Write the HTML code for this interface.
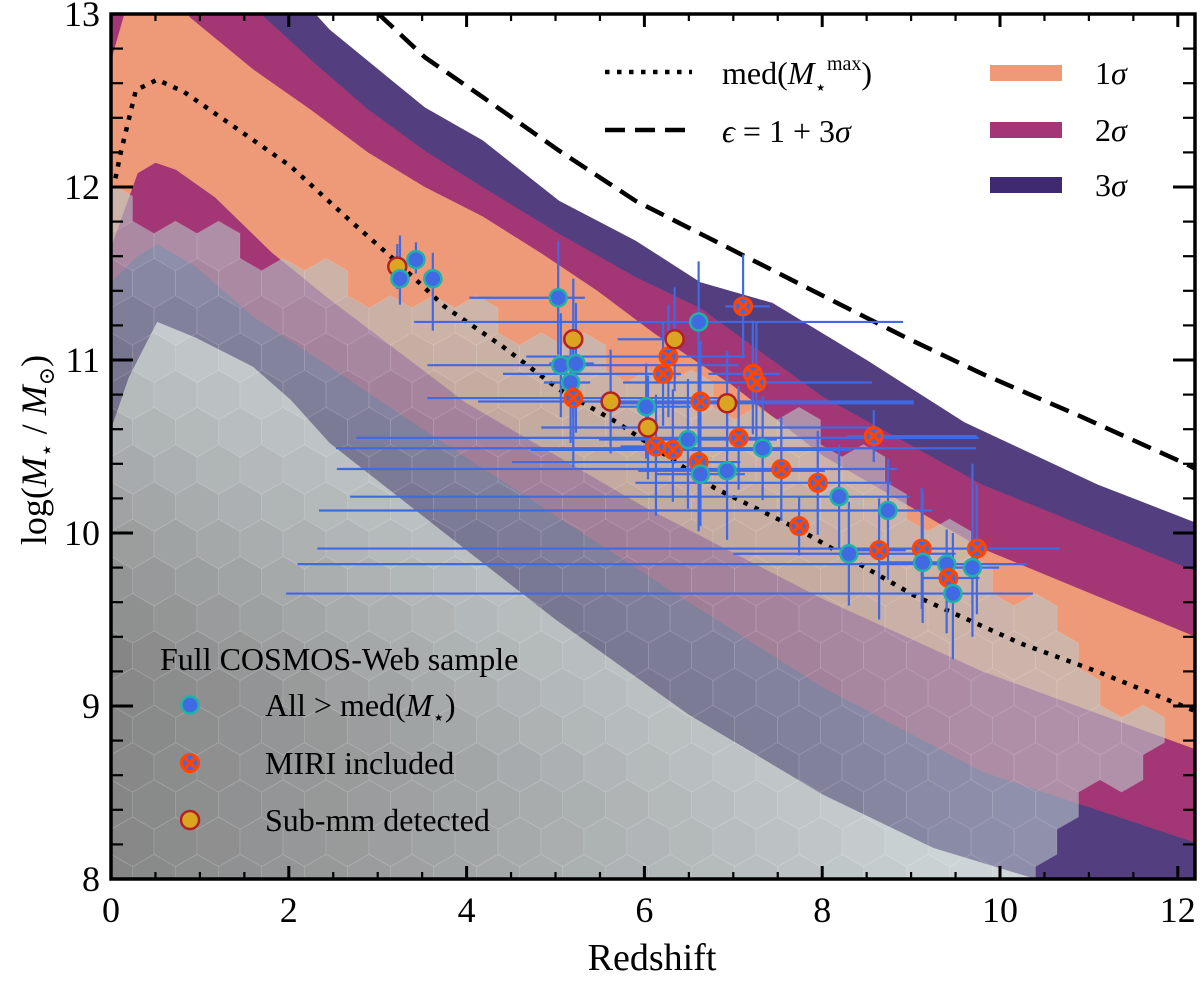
<!DOCTYPE html>
<html><head><meta charset="utf-8"><style>
html,body{margin:0;padding:0;background:#fff}
svg, svg text{font-family:"Liberation Serif","DejaVu Serif",serif}
</style></head><body>
<svg id="chart" width="1200" height="983" viewBox="0 0 1200 983" xmlns="http://www.w3.org/2000/svg" font-family="Liberation Serif, DejaVu Serif, serif">
<defs><clipPath id="pc"><rect x="111" y="14" width="1084" height="865"/></clipPath></defs>
<g id="bands" clip-path="url(#pc)"></g>
<g id="hexes" clip-path="url(#pc)"></g>
<g id="curves" clip-path="url(#pc)"></g>
<g id="errs" clip-path="url(#pc)"></g>
<g id="marks"></g>
<g id="axes"></g>
<g id="legend"></g>
</svg>
<script>
// ---- data ----
const bandU1=[[0,12.73],[0.15,13.0],[0.5,13.3],[0.89,12.98],[1.6,12.68],[2.24,12.45],[2.89,12.2],[3.53,12.0],[4.18,11.83],[4.83,11.62],[5.47,11.4],[6.12,11.15],[7,10.85],[8,10.45],[9.8,9.91],[12.2,9.4]];
const bandL1=[[0,11.65],[0.3,12.08],[0.5,12.14],[0.73,12.1],[1.17,11.94],[1.81,11.62],[2.46,11.35],[4,10.75],[6,10.15],[8,9.62],[9.8,9.2],[12.2,8.75]];
const bandU2=[[0,13.6],[1.6,13.05],[1.73,12.98],[2.28,12.72],[2.89,12.45],[3.53,12.21],[4.18,12.0],[5.04,11.73],[5.9,11.48],[6.63,11.3],[8,10.79],[9.8,10.28],[12.2,9.78]];
const bandL2=[[0,11.45],[0.3,11.6],[0.52,11.67],[0.95,11.54],[1.6,11.25],[2.46,10.96],[3.3,10.67],[5,10.1],[6.5,9.6],[8,9.11],[9.8,8.62],[12.2,8.21]];
const bandU3=[[0,14],[2.3,13],[2.46,12.91],[3.53,12.46],[4.18,12.27],[5.04,11.92],[5.9,11.69],[6.63,11.45],[7.44,11.33],[8.5,11.0],[9.6,10.64],[11.1,10.28],[12.2,10.06]];
const bandL3=[[0,10.6],[0.2,10.9],[0.52,11.22],[0.95,11.13],[1.6,10.96],[2.02,10.77],[2.46,10.52],[4,9.9],[5,9.5],[6.5,8.95],[8,8.49],[9.25,8.18],[10.4,8.0],[10.5,7.9],[12.2,7.9]];
const medMaxZ=[0.05,0.11,0.28,0.52,0.82,1.38,2.02,2.68,3.23,3.75,4.4,5.04,5.69,6.79,7.74,9.03,10.24,11.09,11.96,12.2];
const medMaxM=[12.05,12.2,12.56,12.62,12.55,12.35,12.12,11.81,11.56,11.31,11.08,10.83,10.64,10.26,10.02,9.64,9.36,9.2,9.02,8.97];
const epsZ=[3.01,3.53,4.18,5.04,5.9,6.63,8.09,8.94,9.8,10.88,12.13,12.2];
const epsM=[13.0,12.75,12.52,12.21,11.92,11.73,11.35,11.13,10.92,10.68,10.39,10.37];
const ptType=["S","B","B","B","B","S","B","B","B","M","S","B","S","M","M","B","M","B","M","B","M","S","M","M","M","S","B","M","M","M","B","M","M","M","B","B","B","M","M","B","B","M","B","M","B"];
const ptZ=[3.22,3.43,3.25,3.62,5.03,5.2,5.06,5.23,5.17,5.2,5.62,6.02,6.04,6.13,6.32,6.49,6.61,6.93,7.54,7.33,7.06,6.93,6.63,6.21,6.27,6.34,6.61,7.11,7.22,7.26,6.63,8.58,7.74,7.95,8.19,8.74,8.3,8.64,9.12,9.13,9.4,9.42,9.47,9.74,9.69];
const ptM=[11.54,11.58,11.47,11.47,11.36,11.12,10.97,10.98,10.87,10.78,10.76,10.73,10.61,10.5,10.48,10.54,10.41,10.36,10.37,10.49,10.55,10.75,10.76,10.92,11.02,11.12,11.22,11.31,10.92,10.87,10.34,10.56,10.04,10.29,10.21,10.13,9.88,9.9,9.91,9.83,9.82,9.74,9.65,9.91,9.8];
const errZlo=[0,0,0,0,1.0,0.1,1.5,0.3,0.3,1.64,0,0.5,1.2,0.4,1.6,1.0,2.1,1.0,5.0,4.8,4.3,1.4,2.5,1.8,1.6,0.64,3.2,0.2,0.5,1.5,0.5,0.3,0.1,2.05,5.5,6.4,1.3,0.3,6.8,0.5,7.3,0.3,7.5,3.1,0.3];
const errZhi=[0,0,0,0,0.3,0.1,2.0,0.2,0.22,1.8,0,0.5,2.5,0.4,2.0,1.0,0.47,1.1,1.3,2.4,2.7,2.1,2.4,0.2,0.86,0.06,2.3,0.3,0.3,1.3,0.5,1.16,0.1,0.83,0.8,0.5,1.2,0.3,1.55,0.3,0.9,0.35,0.9,0.93,0.3];
const errMlo=[0.13,0.08,0.15,0.3,0.33,0.45,0.3,0.4,0.35,0.4,0.3,0.3,0.3,0.4,0.3,0.4,0.4,0.4,0.3,0.3,0.3,0.3,0.35,0.3,0.35,0.3,0.45,0.3,0.35,0.4,0.3,0.15,0.17,0.3,0.3,0.4,0.3,0.4,0.35,0.35,0.4,0.1,0.38,0.38,0.4];
const errMhi=[0.13,0.1,0.25,0.15,0.33,0.35,0.3,0.35,0.3,0.3,0.3,0.25,0.3,0.3,0.35,0.35,0.5,0.4,0.3,0.3,0.3,0.3,0.35,0.3,0.3,0.3,0.35,0.3,0.3,0.35,0.3,0.15,0.17,0.3,0.3,0.3,0.3,0.3,0.35,0.4,0.2,0.1,0.35,0.37,0.6];
const xTicks=[0,2,4,6,8,10,12];
const yTicks=[8,9,10,11,12,13];

// ---- scales ----
const X0=111,PX=88.9,Y0=14,PY=173;
const sx=z=>X0+z*PX, sy=m=>Y0+(13-m)*PY;
const NS="http://www.w3.org/2000/svg";
function mk(tag,parent,attrs){const e=document.createElementNS(NS,tag);for(const k in attrs)e.setAttribute(k,attrs[k]);parent.appendChild(e);return e;}
const $=id=>document.getElementById(id);

// bands
function bandPath(U,L){let d="M"+U.map(p=>sx(p[0]).toFixed(1)+","+sy(p[1]).toFixed(1)).join("L");d+="L"+L.slice().reverse().map(p=>sx(p[0]).toFixed(1)+","+sy(p[1]).toFixed(1)).join("L")+"Z";return d;}
const bands=$("bands");
let b3=mk("path",bands,{d:bandPath(bandU3,bandL3),fill:"#533f80"});


let b2=mk("path",bands,{d:bandPath(bandU2,bandL2),fill:"#a33775"});


let b1=mk("path",bands,{d:bandPath(bandU1,bandL1),fill:"#ee9a78"});



// hexbin
const hx=$("hexes");const hw=43,hh=hw/0.866,rs=hh*0.75;
let row=0;
for(let cy=879;cy>-20;cy-=rs,row++){
  for(let cx=111+(row%2?hw/2:0);cx<1220;cx+=hw){
    const z=(cx-X0)/PX,m=13-(cy-Y0)/PY;
    const top=11.9-0.16*z-Math.max(0,z-8)*0.3;
    const bot=7.7+Math.max(0,z-9.8)*0.6;
    if(m>top||m<bot)continue;
    let d=Math.min(1,Math.max(0,(top-m)/2.6))*Math.max(0,1-z/11);
    const c=[185-125*d,198-138*d,202-142*d].map(v=>Math.round(v));
    let pts=[];for(let k=0;k<6;k++){const a=Math.PI/180*(60*k-90);pts.push((cx+hh/2*Math.cos(a)).toFixed(1)+","+(cy+hh/2*Math.sin(a)).toFixed(1));}
    const h=mk("polygon",hx,{points:pts.join(" "),fill:`rgb(${c})`,"fill-opacity":0.62,stroke:"#fff","stroke-opacity":0.1,"stroke-width":1});
    
    
  }
}

// curves
const cv=$("curves");
let med=mk("polyline",cv,{points:medMaxZ.map((z,i)=>sx(z)+","+sy(medMaxM[i])).join(" "),fill:"none",stroke:"#000","stroke-width":4.5,"stroke-dasharray":"4.5 7.5"});


let eps=mk("polyline",cv,{points:epsZ.map((z,i)=>sx(z)+","+sy(epsM[i])).join(" "),fill:"none",stroke:"#000","stroke-width":4.5,"stroke-dasharray":"20 10"});



// error bars
const eg=$("errs");
ptZ.forEach((z,i)=>{
  const m=ptM[i];
  if(errZlo[i]+errZhi[i]>0){const l=mk("line",eg,{x1:sx(z-errZlo[i]),x2:sx(z+errZhi[i]),y1:sy(m),y2:sy(m),stroke:"#4169e1","stroke-width":2.2});
    
    }
  const v=mk("line",eg,{x1:sx(z),x2:sx(z),y1:sy(m-errMlo[i]),y2:sy(m+errMhi[i]),stroke:"#4169e1","stroke-width":2.2});
  
  
});

// markers
function marker(parent,type,x,y){
  const g=mk("g",parent,{});
  if(type==="B"){mk("circle",g,{cx:x,cy:y,r:8.5,fill:"#4169e1",stroke:"#20b2aa","stroke-width":2.5});}
  else if(type==="M"){mk("circle",g,{cx:x,cy:y,r:8.5,fill:"#4169e1",stroke:"#ff4500","stroke-width":3});
    mk("path",g,{d:`M${x-4},${y-4}L${x+4},${y+4}M${x+4},${y-4}L${x-4},${y+4}`,stroke:"#ff4500","stroke-width":3.5,"stroke-linecap":"round"});}
  else {mk("circle",g,{cx:x,cy:y,r:9,fill:"#daa520",stroke:"#b22222","stroke-width":2.5});}
  return g;
}
const mg=$("marks");
ptZ.forEach((z,i)=>{
  const g=marker(mg,ptType[i],sx(z),sy(ptM[i]));
  
  
});

// axes
const ax=$("axes");
mk("rect",ax,{x:111,y:14,width:1084,height:865,fill:"none",stroke:"#000","stroke-width":3.5});
for(let z=0;z<=12.1;z+=0.5){const maj=Math.abs(z-Math.round(z/2)*2)<1e-6;const L=maj?13:7;
  mk("line",ax,{x1:sx(z),x2:sx(z),y1:879,y2:879-L,stroke:"#000","stroke-width":maj?3:2.2});
  mk("line",ax,{x1:sx(z),x2:sx(z),y1:14,y2:14+L,stroke:"#000","stroke-width":maj?3:2.2});}
for(let m=8;m<=13.001;m+=0.2){const maj=Math.abs(m-Math.round(m))<1e-6;const L=maj?22:12;
  mk("line",ax,{x1:111,x2:111+L,y1:sy(m),y2:sy(m),stroke:"#000","stroke-width":maj?3:2.2});
  mk("line",ax,{x1:1195,x2:1195-L,y1:sy(m),y2:sy(m),stroke:"#000","stroke-width":maj?3:2.2});}
xTicks.forEach(z=>{const t=mk("text",ax,{x:sx(z),y:922,"font-size":36,"text-anchor":"middle","font-family":"Liberation Serif, serif"});t.textContent=z;
  
  });
yTicks.forEach(m=>{const t=mk("text",ax,{x:100,y:sy(m)+12,"font-size":36,"text-anchor":"end","font-family":"Liberation Serif, serif"});t.textContent=m;
  
  });
</script>
<script>
(function(){
const ax=document.getElementById("axes"),lg=document.getElementById("legend");
ax.insertAdjacentHTML("beforeend",
 '<text x="652" y="970" font-size="38" text-anchor="middle" font-family="Liberation Serif, serif">Redshift</text>'+
 '<text transform="translate(46,450) rotate(-90)" font-size="36" text-anchor="middle" font-family="Liberation Serif, serif">log(<tspan font-style="italic">M</tspan><tspan font-size="22" dy="8">⋆</tspan><tspan dy="-8"> / </tspan><tspan font-style="italic">M</tspan><tspan font-size="22" dy="8">⊙</tspan><tspan dy="-8">)</tspan></text>');
lg.insertAdjacentHTML("beforeend",
 '<g font-family="Liberation Serif, serif"><line x1="605" x2="692" y1="72" y2="72" stroke="#000" stroke-width="4.5" stroke-dasharray="4.5 7.5"/><text x="722" y="84" font-size="32">med(<tspan font-style="italic">M</tspan><tspan font-size="20" dy="10">⋆</tspan><tspan font-size="20" dy="-24">max</tspan><tspan dy="14">)</tspan></text></g>'+
 '<g font-family="Liberation Serif, serif"><line x1="605" x2="692" y1="130" y2="130" stroke="#000" stroke-width="4.5" stroke-dasharray="20 10"/><text x="722" y="142" font-size="32"><tspan font-style="italic">ϵ</tspan> = 1 + 3<tspan font-style="italic">σ</tspan></text></g>'+
 '<g font-family="Liberation Serif, serif"><rect x="990" y="65" width="72" height="16" fill="#ee9a78"/><text x="1095" y="84" font-size="32">1<tspan font-style="italic">σ</tspan></text></g>'+
 '<g font-family="Liberation Serif, serif"><rect x="990" y="122" width="72" height="16" fill="#a33775"/><text x="1095" y="141" font-size="32">2<tspan font-style="italic">σ</tspan></text></g>'+
 '<g font-family="Liberation Serif, serif"><rect x="990" y="177" width="72" height="16" fill="#3f2a72"/><text x="1095" y="196" font-size="32">3<tspan font-style="italic">σ</tspan></text></g>'+
 '<text x="160" y="670" font-size="32" font-family="Liberation Serif, serif">Full COSMOS-Web sample</text>'+
 '<g font-family="Liberation Serif, serif"><circle cx="190" cy="705" r="8.5" fill="#4169e1" stroke="#20b2aa" stroke-width="2.5"/><text x="265" y="716" font-size="32">All &gt; med(<tspan font-style="italic">M</tspan><tspan font-size="20" dy="8">⋆</tspan><tspan dy="-8">)</tspan></text></g>'+
 '<g font-family="Liberation Serif, serif"><circle cx="190" cy="763" r="8.5" fill="#4169e1" stroke="#ff4500" stroke-width="3"/><path d="M186,759L194,767M194,759L186,767" stroke="#ff4500" stroke-width="3.5" stroke-linecap="round"/><text x="265" y="774" font-size="32">MIRI included</text></g>'+
 '<g font-family="Liberation Serif, serif"><circle cx="190" cy="820" r="9" fill="#daa520" stroke="#b22222" stroke-width="2.5"/><text x="265" y="831" font-size="32">Sub-mm detected</text></g>');
})();
</script>
</body></html>
